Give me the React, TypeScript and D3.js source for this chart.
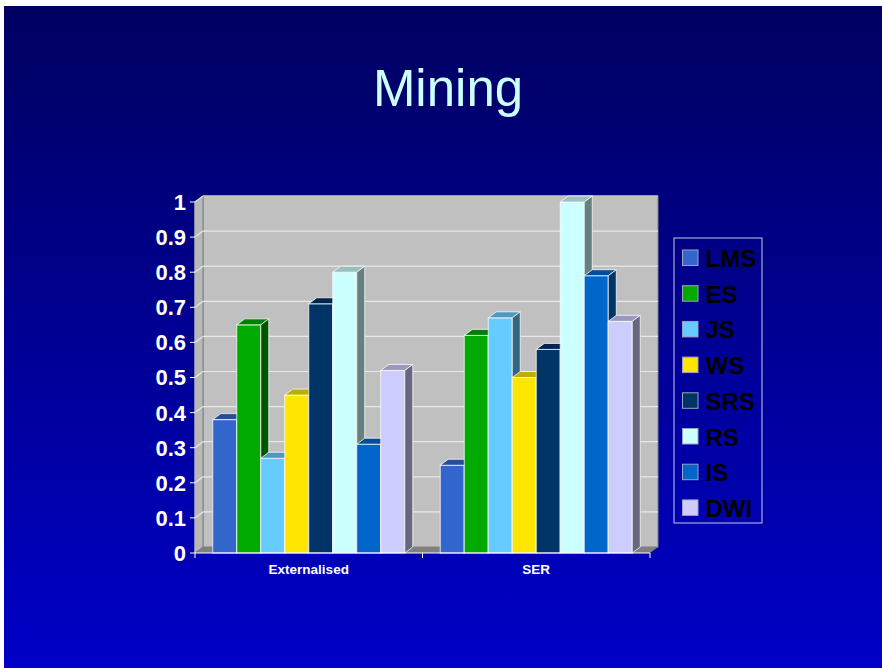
import React from "react";
import * as d3 from "d3";

// Chart data
const categories = ["Externalised", "SER"];
const seriesNames = ["LMS", "ES", "JS", "WS", "SRS", "RS", "IS", "DWI"];
const seriesColors = ["#3366CC", "#00AA00", "#66CCFF", "#FFE600", "#003366", "#CCFFFF", "#0066CC", "#CCCCFF"];
const externalisedValues = [0.38, 0.65, 0.27, 0.45, 0.71, 0.8, 0.31, 0.52];
const serValues = [0.25, 0.62, 0.67, 0.5, 0.58, 1.0, 0.79, 0.66];
const yTicks = [0, 0.1, 0.2, 0.3, 0.4, 0.5, 0.6, 0.7, 0.8, 0.9, 1];
const yTickLabels = ["0", "0.1", "0.2", "0.3", "0.4", "0.5", "0.6", "0.7", "0.8", "0.9", "1"];

const W = 882;
const H = 668;
const FONT = "'Liberation Sans', Arial, Helvetica, sans-serif";

// plot geometry (front plane) and 3D depth offset
const left = 195;
const right = 650;
const bottom = 553;
const top = 202;
const DX = 8;
const DY = 6;

export default function App() {
  const x0 = d3.scaleBand<string>().domain(categories).range([left, right]).padding(0);
  const bw = x0.bandwidth();
  const barW = 24;
  const groupW = barW * seriesNames.length;
  const pad = (bw - groupW) / 2;
  const x1 = d3.scaleBand<string>().domain(seriesNames).range([pad, pad + groupW]).padding(0);
  const y = d3.scaleLinear().domain([0, 1]).range([bottom, top]);

  const valuesByCat = [externalisedValues, serValues];

  const shade = (c: string, k: number) => {
    const rgb = d3.rgb(c);
    return d3.rgb(rgb.r * k, rgb.g * k, rgb.b * k).formatHex();
  };

  const edge = "rgba(255,255,255,0.75)";

  const bars: React.ReactNode[] = [];
  categories.forEach((cat, ci) => {
    seriesNames.forEach((s, si) => {
      const v = valuesByCat[ci][si];
      const bx0 = (x0(cat) ?? 0) + (x1(s) ?? 0);
      const bx1 = bx0 + x1.bandwidth();
      const yt = y(v);
      const yb = y(0);
      const col = seriesColors[si];
      bars.push(
        <g key={cat + s}>
          <rect x={bx0} y={yt} width={bx1 - bx0} height={yb - yt} fill={col} stroke={edge} strokeWidth={1} />
          <polygon
            points={`${bx0},${yt} ${bx0 + DX},${yt - DY} ${bx1 + DX},${yt - DY} ${bx1},${yt}`}
            fill={shade(col, 0.75)}
            stroke={edge}
            strokeWidth={1}
          />
          <polygon
            points={`${bx1},${yt} ${bx1 + DX},${yt - DY} ${bx1 + DX},${yb - DY} ${bx1},${yb}`}
            fill={shade(col, 0.5)}
            stroke={edge}
            strokeWidth={1}
          />
        </g>
      );
    });
  });

  const legendX = 674;
  const legendY = 238;
  const legendStep = 35.7;

  return (
    <svg
      width={W}
      height={H}
      viewBox={`0 0 ${W} ${H}`}
      style={{ position: "absolute", left: 0, top: 0, display: "block" }}
    >
      <defs>
        <linearGradient id="bg" x1="0" y1="0" x2="0" y2="1">
          <stop offset="0" stopColor="#000060" />
          <stop offset="1" stopColor="#0000C8" />
        </linearGradient>
      </defs>
      <rect x={0} y={0} width={W} height={H} fill="#FFFFFF" />
      <rect x={4} y={6} width={W - 4} height={H - 6} fill="url(#bg)" />

      <text x={448} y={106} textAnchor="middle" fontFamily={FONT} fontSize={51} fill="#CCFFFF">
        Mining
      </text>

      {/* walls */}
      <rect x={left + DX} y={top - DY} width={right - left} height={bottom - top} fill="#C0C0C0" stroke="#808080" strokeWidth={1} />
      <polygon
        points={`${left},${top} ${left + DX},${top - DY} ${left + DX},${bottom - DY} ${left},${bottom}`}
        fill="#B8B8B8"
        stroke="#808080"
        strokeWidth={1}
      />
      <polygon
        points={`${left},${bottom} ${left + DX},${bottom - DY} ${right + DX},${bottom - DY} ${right},${bottom}`}
        fill="#808080"
      />

      {/* gridlines */}
      {yTicks.slice(1).map((t) => (
        <g key={"g" + t}>
          <line x1={left + DX} x2={right + DX} y1={y(t) - DY} y2={y(t) - DY} stroke="#E8E8E8" strokeWidth={1.2} />
          <line x1={left} x2={left + DX} y1={y(t)} y2={y(t) - DY} stroke="#E8E8E8" strokeWidth={1.2} />
        </g>
      ))}

      {bars}

      {/* y axis */}
      <line x1={left} x2={left} y1={top} y2={bottom} stroke="#D0D0D0" strokeWidth={1} />
      {yTicks.map((t, i) => (
        <g key={"t" + t}>
          <line x1={left - 5} x2={left} y1={y(t)} y2={y(t)} stroke="#FFFFFF" strokeWidth={1} />
          <text
            x={186}
            y={y(t)}
            dy="0.36em"
            textAnchor="end"
            fontFamily={FONT}
            fontWeight="bold"
            fontSize={22}
            fill="#FFFFFF"
          >
            {yTickLabels[i]}
          </text>
        </g>
      ))}

      {/* x axis */}
      <line x1={left} x2={right} y1={bottom} y2={bottom} stroke="#FFFFFF" strokeWidth={1.2} />
      {[left, ...categories.map((c) => (x0(c) ?? 0) + bw)].map((xv, i) => (
        <line key={"xt" + i} x1={xv} x2={xv} y1={bottom} y2={bottom + 5} stroke="#FFFFFF" strokeWidth={1} />
      ))}
      {categories.map((c) => (
        <text
          key={"c" + c}
          x={(x0(c) ?? 0) + bw / 2}
          y={574}
          textAnchor="middle"
          fontFamily={FONT}
          fontWeight="bold"
          fontSize={13.5}
          fill="#FFFFFF"
        >
          {c}
        </text>
      ))}

      {/* legend */}
      <rect x={legendX} y={legendY} width={88} height={285} fill="none" stroke="#C8C8E8" strokeWidth={1} />
      {seriesNames.map((s, i) => (
        <g key={"l" + s}>
          <rect
            x={legendX + 8.5}
            y={legendY + 12 + i * legendStep}
            width={15.5}
            height={15.5}
            fill={seriesColors[i]}
            stroke="#A0A0C0"
            strokeWidth={1}
          />
          <text
            x={legendX + 31.5}
            y={legendY + 29 + i * legendStep}
            fontFamily={FONT}
            fontWeight="bold"
            fontSize={24}
            fill="#000000"
          >
            {s}
          </text>
        </g>
      ))}
    </svg>
  );
}
